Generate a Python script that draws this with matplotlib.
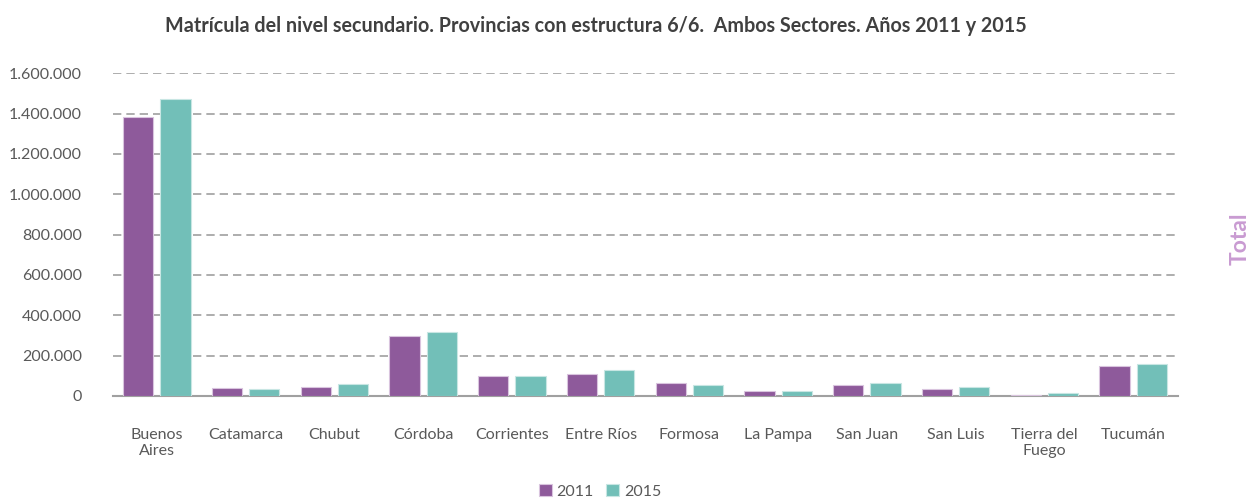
import numpy as np
import matplotlib.pyplot as plt
from matplotlib.ticker import FuncFormatter

provincias = ["Buenos\nAires", "Catamarca", "Chubut", "Córdoba", "Corrientes", "Entre Ríos",
              "Formosa", "La Pampa", "San Juan", "San Luis", "Tierra del\nFuego", "Tucumán"]
mat_2011 = [1383000, 38000, 46000, 297000, 97000, 107000, 66000, 26000, 56000, 36000, 5000, 147000]
mat_2015 = [1474000, 36000, 58000, 317000, 97000, 127000, 56000, 25000, 66000, 46000, 15000, 157000]
yticks = [0, 200000, 400000, 600000, 800000, 1000000, 1200000, 1400000, 1600000]

plt.rcParams['font.family'] = ['Lato', 'DejaVu Sans']

fig = plt.figure(figsize=(12.5, 4.98), dpi=100)
ax = fig.add_axes([0.09, 0.205, 0.852, 0.648])

x = np.arange(len(provincias))
w = 0.34
ax.bar(x - 0.21, mat_2011, w, color="#8E5A9B", edgecolor="#D9C4DE", linewidth=0.8, label="2011", zorder=3)
ax.bar(x + 0.21, mat_2015, w, color="#72BFB8", edgecolor="#C8E6E3", linewidth=0.8, label="2015", zorder=3)

ax.set_xlim(-0.5, len(provincias) - 0.5)
ax.set_ylim(0, 1600000)
ax.set_yticks(yticks)
ax.yaxis.set_major_formatter(FuncFormatter(lambda v, p: f"{int(v):,}".replace(",", ".")))
ax.grid(axis="y", color="#A0A0A0", linestyle=(0, (5, 3)), linewidth=1.2, zorder=0)
ax.set_xticks(x)
ax.set_xticklabels(provincias, va="top")
ax.tick_params(axis="both", length=0, labelsize=11.5, colors="#595959")
ax.tick_params(axis="x", pad=23)
ax.tick_params(axis="y", pad=22)
for s in ["top", "right", "left"]:
    ax.spines[s].set_visible(False)
ax.spines["bottom"].set_color("#A0A0A0")
ax.spines["bottom"].set_linewidth(1.5)

fig.text(0.477, 0.948, "Matrícula del nivel secundario. Provincias con estructura 6/6.  Ambos Sectores. Años 2011 y 2015",
         ha="center", va="center", fontsize=14.2, fontweight="bold", color="#404040")
fig.text(0.992, 0.52, "Total", rotation=90, ha="center", va="center", fontsize=16.5,
         fontweight="bold", color="#C99BD2")

fig.legend(loc="lower center", bbox_to_anchor=(0.48, -0.03), ncol=2, frameon=False,
           fontsize=11.5, handlelength=0.8, handleheight=0.8, handletextpad=0.3, columnspacing=0.8,
           labelcolor="#595959")

fig.savefig("out.png", dpi=100)
